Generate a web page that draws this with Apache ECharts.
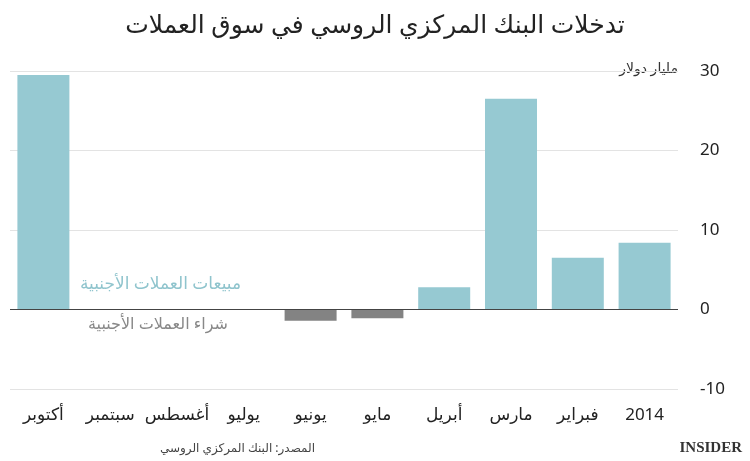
<!DOCTYPE html>
<html><head><meta charset="utf-8">
<script src="https://cdn.jsdelivr.net/npm/echarts@6/dist/echarts.min.js"></script>
<style>body{margin:0}#c{width:750px;height:461px}</style></head>
<body><div id="c"></div>
<script>
// الأشهر من اليمين إلى اليسار
var months = ['2014', 'فبراير', 'مارس', 'أبريل', 'مايو', 'يونيو', 'يوليو', 'أغسطس', 'سبتمبر', 'أكتوبر'];
// مليار دولار
var values = [8.4, 6.5, 26.5, 2.8, -1.1, -1.4, 0, 0, 0, 29.5];
var yTicks = [-10, 0, 10, 20, 30];

var font = '"Noto Sans", "DejaVu Sans", sans-serif';
var myChart = echarts.init(document.getElementById('c'));
option = {
	animation: false,
	title: {
		text: 'تدخلات البنك المركزي الروسي في سوق العملات',
		left: 'center', top: 8,
		textStyle: {fontSize: 25, fontWeight: 'normal', color: '#222', fontFamily: font}
	},
	grid: {left: 10, right: 72, top: 71, bottom: 72, outerBoundsMode: 'none', containLabel: false},
	xAxis: {
		type: 'category', data: months, inverse: true,
		axisLine: {show: false}, axisTick: {show: false},
		axisLabel: {fontSize: 17, color: '#222', fontFamily: font, margin: 18, interval: 0}
	},
	yAxis: {
		type: 'value', position: 'right', min: -10, max: 30, interval: 10,
		axisLabel: {fontSize: 17, color: '#222', fontFamily: font, margin: 22},
		splitLine: {lineStyle: {color: '#e3e3e3'}}
	},
	graphic: [
		{type: 'text', right: 72, top: 62, style: {text: 'مليار دولار', fontSize: 14, fill: '#333', fontFamily: font}},
		{type: 'text', left: 80, top: 276, style: {text: 'مبيعات العملات الأجنبية', fontSize: 17, fill: '#8fc4cd', fontFamily: font}},
		{type: 'text', left: 88, top: 316, style: {text: 'شراء العملات الأجنبية', fontSize: 16, fill: '#888', fontFamily: font}},
		{type: 'text', right: 435, top: 443, style: {text: 'المصدر: البنك المركزي الروسي', fontSize: 12, fill: '#444', fontFamily: font}},
		{type: 'text', right: 8, top: 441, style: {text: 'INSIDER', fontSize: 15, fontWeight: 'bold', fill: '#333', fontFamily: '"Liberation Serif", serif'}}
	],
	series: [{
		type: 'bar', barWidth: 52,
		data: values.map(function (v) {
			return {value: v, itemStyle: {color: v < 0 ? '#838383' : '#96c9d2'}};
		}),
		markLine: {
			symbol: 'none', silent: true, label: {show: false},
			lineStyle: {color: '#444', type: 'solid', width: 1},
			data: [{yAxis: 0}]
		}
	}]
};
myChart.setOption(option);
</script></body></html>
